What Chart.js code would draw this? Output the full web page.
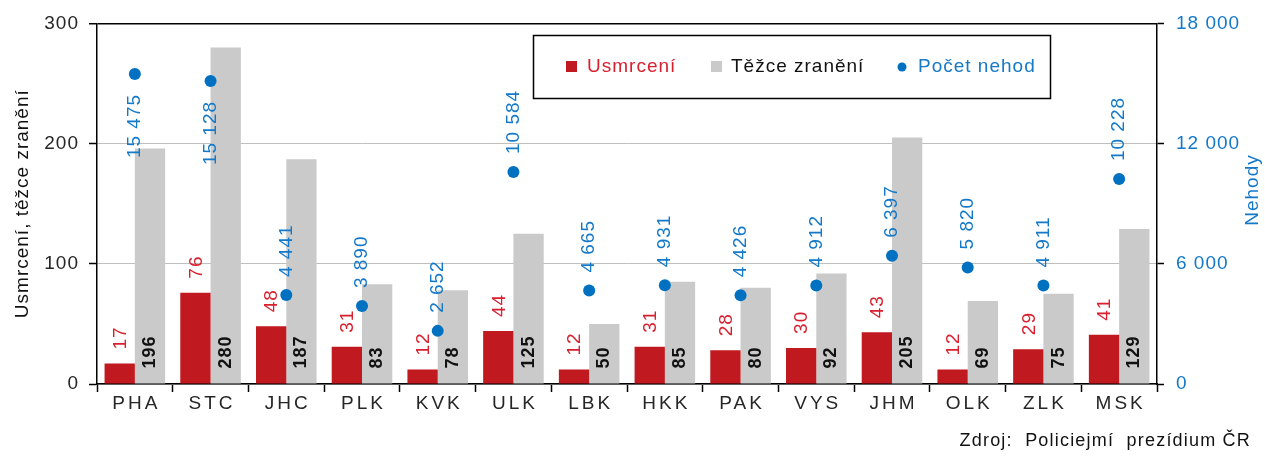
<!DOCTYPE html>
<html lang="cs">
<head>
<meta charset="utf-8">
<script src="https://cdn.jsdelivr.net/npm/chart.js@4"></script>
<style>
  html, body { margin: 0; padding: 0; background: #fff; }
  #wrap { width: 1265px; height: 457px; }
</style>
</head>
<body>
<div id="wrap"><canvas id="graf" width="1265" height="457"></canvas></div>
<script>
// kraje
const kraje = ['PHA', 'STC', 'JHC', 'PLK', 'KVK', 'ULK', 'LBK', 'HKK', 'PAK', 'VYS', 'JHM', 'OLK', 'ZLK', 'MSK'];
// usmrcení
const usmrceni = [17, 76, 48, 31, 12, 44, 12, 31, 28, 30, 43, 12, 29, 41];
// těžce zranění
const tezceZraneni = [196, 280, 187, 83, 78, 125, 50, 85, 80, 92, 205, 69, 75, 129];
// počet nehod
const pocetNehod = [15475, 15128, 4441, 3890, 2652, 10584, 4665, 4931, 4426, 4912, 6397, 5820, 4911, 10228];

const CERVENA = '#C0191F';
const SEDA = '#CACACA';
const MODRA = '#0070C0';
const PISMO = '"Liberation Sans", Arial, sans-serif';
const ROZPAL = '1px';

// formát s mezerou mezi tisíci
function formatCislo(v) {
    return String(v).replace(/\B(?=(\d{3})+(?!\d))/g, ' ');
}

// svislý text
function svislyText(ctx, text, x, y, align) {
    ctx.save();
    ctx.translate(x, y);
    ctx.rotate(-Math.PI / 2);
    ctx.textAlign = align;
    ctx.textBaseline = 'middle';
    ctx.fillText(text, 0, 0);
    ctx.restore();
}

// popisky hodnot, legenda, zdroj
const popiskyPlugin = {
    id: 'popisky',
    beforeInit(chart) {
        chart.ctx.letterSpacing = ROZPAL;
    },
    beforeDraw(chart) {
        chart.ctx.letterSpacing = ROZPAL;
    },
    afterDatasetsDraw(chart) {
        const ctx = chart.ctx;
        const area = chart.chartArea;
        ctx.save();
        ctx.letterSpacing = ROZPAL;

        // usmrcení - nad sloupcem
        ctx.font = '19px ' + PISMO;
        ctx.fillStyle = '#D8202F';
        chart.getDatasetMeta(0).data.forEach((el, i) => {
            svislyText(ctx, String(usmrceni[i]), el.x + 1, el.y - 14, 'left');
        });

        // těžce zranění - u základny
        ctx.font = 'bold 18px ' + PISMO;
        ctx.fillStyle = '#111';
        chart.getDatasetMeta(1).data.forEach((el, i) => {
            svislyText(ctx, String(tezceZraneni[i]), el.x, el.base - 15, 'left');
        });

        // nehody - nad bodem, u horního okraje pod bodem
        ctx.font = '19px ' + PISMO;
        ctx.fillStyle = '#1479C9';
        chart.getDatasetMeta(2).data.forEach((el, i) => {
            const txt = formatCislo(pocetNehod[i]);
            const w = ctx.measureText(txt).width;
            if (el.y - 18 - w < area.top) {
                svislyText(ctx, txt, el.x, el.y + 20, 'right');
            } else {
                svislyText(ctx, txt, el.x, el.y - 18, 'left');
            }
        });
        ctx.restore();
    },
    afterDraw(chart) {
        const ctx = chart.ctx;
        const area = chart.chartArea;
        ctx.save();

        // popisky osy x (s větším prostrkáním)
        const sx = chart.scales.x;
        ctx.font = '19px ' + PISMO;
        ctx.fillStyle = '#262626';
        ctx.textAlign = 'center';
        ctx.textBaseline = 'middle';
        ctx.letterSpacing = '3px';
        kraje.forEach((k, i) => {
            ctx.fillText(k, sx.getPixelForTick(i) + 1.5, area.bottom + 20);
        });
        ctx.letterSpacing = ROZPAL;

        // legenda
        ctx.strokeStyle = '#000';
        ctx.lineWidth = 1.5;
        ctx.strokeRect(533.5, 35.5, 517, 63);
        ctx.font = '19px ' + PISMO;
        ctx.textAlign = 'left';
        const ly = 67;
        ctx.fillStyle = CERVENA;
        ctx.fillRect(566, ly - 6, 11, 11);
        ctx.fillStyle = '#D8202F';
        ctx.fillText('Usmrcení', 587, ly);
        ctx.fillStyle = SEDA;
        ctx.fillRect(711, ly - 6, 11, 11);
        ctx.fillStyle = '#111';
        ctx.fillText('Těžce zranění', 731, ly);
        ctx.fillStyle = MODRA;
        ctx.beginPath();
        ctx.arc(902, ly, 4.5, 0, Math.PI * 2);
        ctx.fill();
        ctx.fillStyle = '#1479C9';
        ctx.fillText('Počet nehod', 918, ly);

        // název pravé osy
        ctx.font = '19px ' + PISMO;
        ctx.fillStyle = '#1479C9';
        ctx.textAlign = 'center';
        ctx.save();
        ctx.translate(1253, 190);
        ctx.rotate(-Math.PI / 2);
        ctx.fillText('Nehody', 0, 0);
        ctx.restore();

        // zdroj
        ctx.font = '18px ' + PISMO;
        ctx.letterSpacing = '1.2px';
        ctx.fillStyle = '#111';
        ctx.textAlign = 'right';
        ctx.fillText('Zdroj:  Policiejmí  prezídium ČR', 1251, 441);
        ctx.restore();
    }
};

const graf = new Chart(document.getElementById('graf'), {
    type: 'bar',
    data: {
        labels: kraje,
        datasets: [
            {
                label: 'Usmrcení',
                data: usmrceni,
                backgroundColor: CERVENA,
                yAxisID: 'y',
                order: 2,
                categoryPercentage: 0.8,
                barPercentage: 1.0
            },
            {
                label: 'Těžce zranění',
                data: tezceZraneni,
                backgroundColor: SEDA,
                yAxisID: 'y',
                order: 2,
                categoryPercentage: 0.8,
                barPercentage: 1.0
            },
            {
                type: 'line',
                label: 'Počet nehod',
                data: pocetNehod,
                yAxisID: 'y1',
                showLine: false,
                pointRadius: 6,
                pointHoverRadius: 6,
                pointBackgroundColor: MODRA,
                pointBorderWidth: 0,
                order: 1
            }
        ]
    },
    options: {
        responsive: false,
        animation: false,
        devicePixelRatio: 1,
        layout: { padding: { top: 22, left: 0, right: 0, bottom: 0 } },
        plugins: {
            legend: { display: false },
            tooltip: { enabled: false }
        },
        scales: {
            x: {
                offset: true,
                grid: { display: true, drawOnChartArea: false, offset: true, tickLength: 8, tickColor: '#000', tickWidth: 1.5 },
                border: { color: '#000', width: 1.5 },
                ticks: { display: false },
                afterFit(s) { s.height = 73; }
            },
            y: {
                position: 'left',
                min: 0,
                max: 300,
                ticks: { stepSize: 100, color: '#262626', font: { family: PISMO, size: 19 }, padding: 10 },
                grid: {
                    color: (c) => (c.tick && c.tick.value === 300) ? '#000' : '#BFBFBF',
                    lineWidth: (c) => (c.tick && c.tick.value === 300) ? 1.5 : 1,
                    tickLength: 8,
                    tickColor: '#000',
                    tickWidth: 1.5
                },
                border: { color: '#000', width: 1.5 },
                title: {
                    display: true,
                    text: 'Usmrcení, těžce zranění',
                    color: '#111',
                    font: { family: PISMO, size: 19 },
                    padding: { top: 11, bottom: 0 }
                },
                afterFit(s) { s.width = 97; }
            },
            y1: {
                position: 'right',
                min: 0,
                max: 18000,
                ticks: {
                    stepSize: 6000,
                    color: '#1479C9',
                    font: { family: PISMO, size: 19 },
                    padding: 12,
                    callback: (v) => formatCislo(v)
                },
                grid: { drawOnChartArea: false, tickLength: 7, tickColor: '#000', tickWidth: 1.5 },
                border: { color: '#000', width: 1.5 },
                afterFit(s) { s.width = 108; }
            }
        }
    },
    plugins: [popiskyPlugin]
});
</script>
</body>
</html>
